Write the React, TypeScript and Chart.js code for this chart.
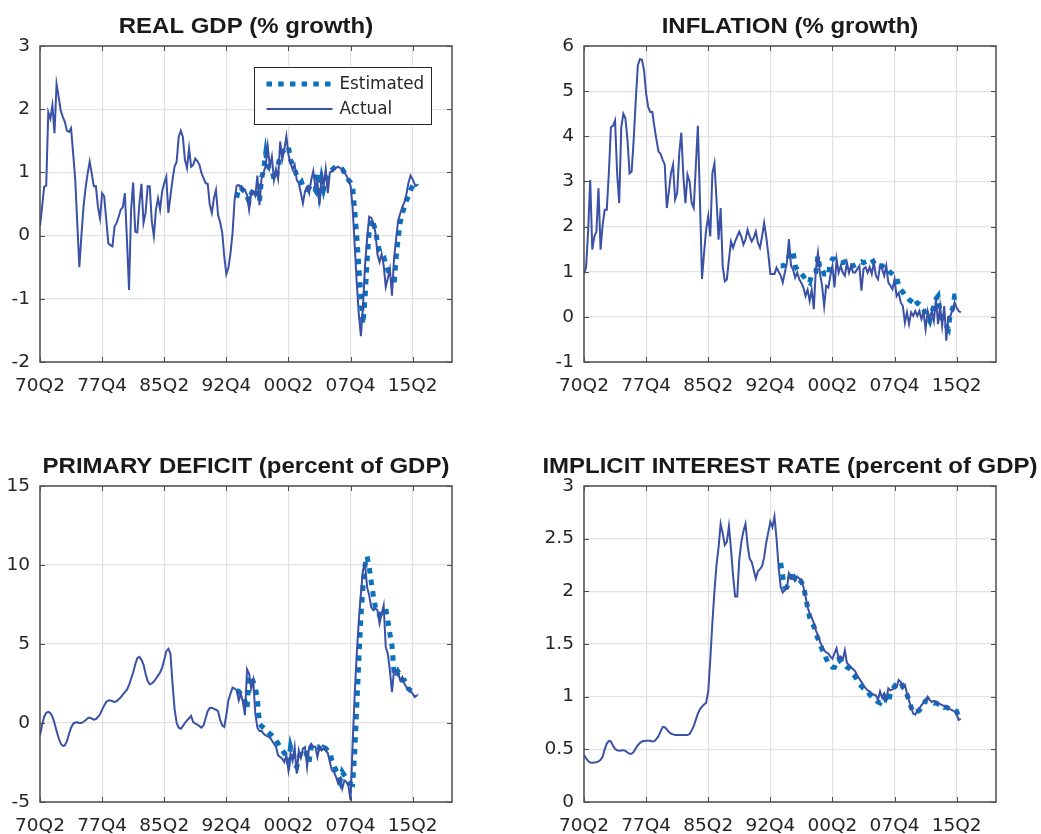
import React, { useEffect, useRef } from 'react';
import { Chart, registerables } from 'chart.js';

Chart.register(...registerables);

// Quarter index 1 = 1970Q2; the axis runs to index 200.
const quarterTicks = [1, 31, 61, 91, 121, 151, 181];
const quarterLabels = ['70Q2', '77Q4', '85Q2', '92Q4', '00Q2', '07Q4', '15Q2'];
const estimateStart = 96; // first estimated quarter (1994Q1)

const gdpActual = [
  0.15, 0.45, 0.77, 0.79, 1.95, 1.85, 2.06, 1.62, 2.4, 2.2,
  1.98, 1.88, 1.8, 1.66, 1.64, 1.7, 1.3, 0.9, 0.2, -0.5,
  0.0, 0.45, 0.75, 0.98, 1.17, 0.98, 0.78, 0.78, 0.45, 0.27,
  0.67, 0.62, 0.25, -0.12, -0.15, -0.17, 0.14, 0.2, 0.3, 0.41,
  0.45, 0.67, -0.07, -0.86, 0.41, 0.84, 0.06, 0.05, 0.5, 0.82,
  0.2, 0.36, 0.78, 0.78, 0.22, -0.01, 0.41, 0.59, 0.41, 0.7,
  0.83, 0.93, 0.36, 0.62, 0.88, 1.09, 1.17, 1.56, 1.66, 1.56,
  1.2, 1.07, 1.38, 1.09, 1.12, 1.22, 1.18, 1.12, 0.99, 0.91,
  0.83, 0.82, 0.49, 0.36, 0.59, 0.72, 0.33, 0.21, 0.05, -0.33,
  -0.61, -0.51, -0.28, 0.04, 0.57, 0.79, 0.8, 0.75, 0.73, 0.72,
  0.64, 0.41, 0.67, 0.7, 0.63, 0.95, 0.48, 0.9, 1.0, 1.1,
  1.41, 1.09, 1.25, 0.88, 1.05, 0.9, 1.49, 1.2, 1.36, 1.57,
  1.28, 1.15, 1.05, 1.12, 0.88, 0.83, 0.67, 0.51, 0.7, 0.77,
  0.67, 0.88, 1.02, 0.77, 0.85, 0.49, 0.95, 0.78, 1.05, 0.67,
  1.0, 1.02, 1.05, 1.07, 1.09, 1.07, 1.04, 1.0, 0.95, 0.88,
  0.79, 0.45, -0.15, -0.75, -1.25, -1.59, -1.12, -0.47, -0.05, 0.3,
  0.28, 0.2, 0.05, -0.3, -0.42, -0.29, -0.47, -0.81, -0.68, -0.53,
  -0.95, -0.37, -0.05, 0.24, 0.35, 0.45, 0.53, 0.66, 0.84, 0.95,
  0.89, 0.81, 0.78,
];

const gdpEstimated = [
  0.6, 0.75, 0.76, 0.72, 0.7, 0.62, 0.54, 0.66, 0.72, 0.75,
  0.72, 0.54, 0.9, 1.05, 1.3, 1.1, 1.06, 1.05, 0.9, 0.88,
  1.1, 1.3, 1.33, 1.35, 1.38, 1.41, 1.2, 1.12, 1.05, 0.95,
  0.9, 0.88, 0.78, 0.75, 0.73, 0.76, 0.8, 0.77, 0.72, 1.0,
  0.7, 0.9, 0.74, 0.88, 0.95, 1.02, 1.04, 1.07, 1.08, 1.08,
  1.06, 1.05, 1.0, 0.95, 0.88, 0.84, 0.78, 0.4, 0.0, -0.5,
  -0.95, -1.4, -1.0, -0.4, 0.05, 0.26, 0.2, 0.08, -0.1, -0.25,
  -0.29, -0.33, -0.45, -0.55, -0.6, -0.62, -0.79, -0.35, -0.05, 0.21,
  0.35, 0.45, 0.55, 0.63, 0.72, 0.79, 0.84, 0.78,
];

const inflationActual = [
  0.95, 1.1, 1.9, 3.03, 1.49, 1.78, 1.89, 2.85, 1.49, 2.04,
  2.37, 2.37, 3.18, 4.2, 4.23, 4.35, 3.18, 2.52, 4.2, 4.5,
  4.4, 3.92, 3.18, 3.22, 3.92, 4.8, 5.57, 5.71, 5.7, 5.46,
  4.95, 4.65, 4.54, 4.54, 4.21, 3.92, 3.66, 3.61, 3.48, 3.37,
  2.41, 2.78, 3.18, 3.37, 2.6, 2.74, 3.62, 4.08, 3.11, 2.52,
  3.15, 3.0, 2.52, 2.41, 3.33, 4.23, 2.6, 0.84, 1.42, 1.93,
  2.23, 1.78, 3.18, 3.4, 2.6, 1.71, 2.41, 1.12, 0.79, 0.83,
  1.27, 1.67, 1.53, 1.67, 1.78, 1.89, 1.78, 1.6, 1.71, 1.93,
  1.78, 1.67, 1.75, 1.89, 1.64, 1.53, 1.78, 2.08, 1.78, 1.4,
  0.95, 0.95, 0.95, 1.09, 1.0, 0.92, 0.76, 0.98, 1.2, 1.72,
  1.13, 1.05, 0.87, 0.98, 0.83, 0.75, 0.65, 0.46, 0.6, 0.35,
  0.6, 0.17, 1.06, 1.42, 0.95, 0.69, 0.24, 0.69, 0.65, 0.91,
  1.13, 0.65, 1.28, 0.98, 1.13, 0.98, 0.91, 1.2, 0.98, 1.13,
  0.98, 0.98, 1.06, 1.13, 0.58, 1.06, 1.1, 0.98, 1.1, 0.95,
  1.2, 0.91, 0.83, 1.13, 1.06, 0.91, 1.13, 0.76, 0.69, 0.61,
  0.83, 0.46, 0.53, 0.32, 0.24, -0.13, 0.1, -0.16, 0.1, 0.02,
  0.13, 0.02, 0.13, -0.05, 0.1, -0.27, 0.13, -0.05, 0.13, -0.09,
  0.39, -0.16, 0.24, -0.2, 0.24, -0.53, 0.0, 0.02, 0.17, 0.32,
  0.2, 0.13, 0.1,
];

const inflationEstimated = [
  1.13, 1.13, 1.15, 1.2, 1.35, 1.45, 1.45, 1.13, 1.05, 0.98,
  0.95, 0.9, 0.83, 0.8, 0.76, 0.95, 0.98, 1.0, 1.35, 1.05,
  1.05, 0.95, 0.95, 0.91, 1.2, 1.28, 1.28, 1.24, 1.22, 1.2,
  1.2, 1.22, 1.2, 1.13, 1.13, 1.13, 1.15, 1.17, 1.2, 1.22,
  1.2, 1.22, 1.24, 1.26, 1.28, 1.2, 1.13, 1.15, 1.13, 1.13,
  1.09, 1.09, 1.05, 0.98, 0.95, 0.91, 0.87, 0.7, 0.6, 0.55,
  0.47, 0.43, 0.38, 0.35, 0.32, 0.39, 0.3, 0.28, 0.24, 0.17,
  0.06, 0.0, -0.09, 0.1, 0.24, 0.4, 0.46, 0.1, -0.1, -0.16,
  -0.2, -0.27, 0.1, 0.17, 0.46, 0.46, 0.43, 0.41,
];

const deficitActual = [
  -0.78, -0.15, 0.4, 0.65, 0.7, 0.63, 0.4, 0.0, -0.5, -0.95,
  -1.3, -1.45, -1.42, -1.15, -0.7, -0.3, -0.05, 0.03, 0.05, 0.0,
  0.0, 0.08, 0.17, 0.3, 0.34, 0.28, 0.21, 0.25, 0.38, 0.55,
  0.85, 1.1, 1.33, 1.43, 1.43, 1.38, 1.33, 1.38, 1.5, 1.62,
  1.8, 1.95, 2.11, 2.4, 2.8, 3.2, 3.7, 4.1, 4.18, 4.0,
  3.7, 3.12, 2.65, 2.45, 2.5, 2.62, 2.8, 3.0, 3.2, 3.5,
  4.0, 4.55, 4.7, 4.4, 2.5, 0.9, 0.0, -0.3, -0.36, -0.2,
  0.0, 0.17, 0.3, 0.45, 0.06, -0.04, -0.1, -0.2, -0.3, -0.15,
  0.3, 0.75, 0.95, 0.97, 0.9, 0.84, 0.75, 0.2, -0.15, -0.25,
  0.5, 1.43, 1.86, 2.24, 2.17, 2.07, 1.43, 1.86, 1.33, 0.49,
  3.4, 3.12, 2.17, 2.7, 0.59, -0.3, -0.51, -0.5, -0.68, -0.78,
  -0.85, -0.93, -1.1, -1.31, -1.52, -2.05, -2.15, -2.26, -2.47, -2.05,
  -3.0, -1.94, -2.4, -1.52, -3.2, -1.73, -2.2, -1.62, -1.52, -2.78,
  -1.52, -1.31, -1.5, -1.5, -2.15, -1.5, -1.73, -1.6, -1.73, -1.9,
  -2.47, -3.0, -3.1, -3.42, -3.84, -3.52, -4.16, -3.63, -3.73, -4.0,
  -4.89, -1.31, 1.8, 4.39, 6.5, 8.19, 9.68, 10.0, 8.6, 8.08,
  7.34, 7.13, 7.24, 7.13, 6.29, 6.9, 7.45, 4.81, 4.39, 3.33,
  1.96, 3.33, 3.23, 3.12, 2.7, 2.91, 2.49, 2.28, 2.17, 2.0,
  1.86, 1.65, 1.75,
];

const deficitEstimated = [
  2.07, 2.0, 1.8, 1.65, 1.4, 0.91, 2.8, 3.0, 2.6, 2.28,
  1.54, -0.04, -0.2, -0.3, -0.42, -0.55, -0.68, -0.78, -0.89, -1.1,
  -1.31, -1.52, -1.7, -1.9, -2.15, -2.47, -1.52, -2.0, -2.57, -2.78,
  -2.2, -1.94, -1.8, -1.69, -2.1, -2.47, -1.52, -1.35, -1.5, -1.5,
  -1.6, -1.83, -1.55, -1.6, -1.75, -1.83, -2.36, -2.68, -3.0, -3.2,
  -3.63, -3.1, -3.31, -3.52, -3.73, -3.84, -3.88, -1.94, 1.0, 3.97,
  6.7, 8.6, 10.0, 10.55, 9.87, 8.92, 8.08, 7.34, 7.13, 6.81,
  7.0, 7.1, 7.24, 6.5, 5.65, 4.92, 3.23, 2.91, 3.23, 3.0,
  2.7, 2.7, 2.49, 2.17, 2.05, 1.96, 1.86, 1.69,
];

const rateActual = [
  0.446, 0.415, 0.39, 0.375, 0.373, 0.376, 0.378, 0.385, 0.4, 0.43,
  0.5, 0.555, 0.58, 0.575, 0.535, 0.505, 0.49, 0.487, 0.49, 0.492,
  0.485, 0.47, 0.458, 0.458, 0.475, 0.51, 0.54, 0.56, 0.575, 0.58,
  0.582, 0.582, 0.582, 0.575, 0.578, 0.6, 0.625, 0.67, 0.712, 0.71,
  0.69, 0.665, 0.65, 0.642, 0.636, 0.636, 0.636, 0.636, 0.636, 0.636,
  0.636, 0.645, 0.68, 0.72, 0.78, 0.84, 0.88, 0.905, 0.925, 0.943,
  1.05, 1.35, 1.7, 2.0, 2.25, 2.42, 2.64, 2.55, 2.44, 2.47,
  2.62, 2.4, 2.15, 1.95, 1.95, 2.3, 2.47, 2.57, 2.64, 2.44,
  2.31, 2.28, 2.2, 2.12, 2.19, 2.21, 2.24, 2.32, 2.46, 2.56,
  2.66, 2.61, 2.71, 2.5, 2.23, 2.04, 1.99, 2.01, 2.03, 2.17,
  2.12, 2.12, 2.11, 2.14, 2.12, 2.11, 2.04, 1.95, 1.85, 1.79,
  1.75, 1.7, 1.63, 1.58, 1.52, 1.48, 1.44, 1.42, 1.41, 1.38,
  1.36, 1.41, 1.46, 1.36, 1.38, 1.35, 1.44, 1.32, 1.3, 1.28,
  1.26, 1.24, 1.2, 1.17, 1.14, 1.11, 1.08, 1.06, 1.05, 1.03,
  1.02, 1.01, 0.97, 1.05, 0.99, 1.03, 0.97, 1.08, 1.06, 1.07,
  1.08, 1.09, 1.16, 1.14, 1.08, 1.11, 1.03, 0.96, 0.9, 0.84,
  0.83, 0.87, 0.89, 0.92, 0.94, 0.97, 1.0, 0.97, 0.95, 0.96,
  0.95, 0.94, 0.93, 0.92, 0.91, 0.9, 0.89, 0.88, 0.87, 0.86,
  0.83, 0.78, 0.79,
];

const rateEstimated = [
  2.27, 2.14, 2.04, 2.04, 2.08, 2.19, 2.15, 2.12, 2.14, 2.11,
  2.09, 2.05, 1.95, 1.85, 1.75, 1.7, 1.67, 1.6, 1.55, 1.5,
  1.45, 1.42, 1.36, 1.32, 1.3, 1.28, 1.28, 1.33, 1.36, 1.33,
  1.31, 1.3, 1.28, 1.27, 1.25, 1.21, 1.19, 1.15, 1.12, 1.1,
  1.08, 1.07, 1.05, 1.02, 1.0, 0.98, 0.97, 0.95, 0.94, 0.97,
  1.0, 0.96, 0.94, 1.03, 1.06, 1.1, 1.12, 1.13, 1.14, 1.09,
  1.06, 1.02, 0.96, 0.9, 0.85, 0.85, 0.86, 0.87, 0.91, 0.93,
  0.96, 0.96, 0.95, 0.95, 0.94, 0.94, 0.93, 0.93, 0.92, 0.9,
  0.9, 0.89, 0.88, 0.87, 0.87, 0.86, 0.81, 0.8,
];

const FONT = "'DejaVu Sans', 'Liberation Sans', Arial, sans-serif";
const TITLE_FONT = "bold 22px 'Liberation Sans', Arial, Helvetica, sans-serif";
const ACTUAL_COLOR = '#3a51a6';
const ESTIMATED_COLOR = '#0a72bd';
const AXIS_COLOR = '#4d4d4d';
const TEXT_COLOR = '#262626';
const GRID_COLOR = '#e2e2e2';
const PLOT_TOP = 46; // top edge of every plot box inside its canvas
const PLOT_BOTTOM = 362; // bottom edge of every plot box inside its canvas

type PanelSpec = {
  title: string;
  actual: number[];
  estimated: number[];
  yMin: number;
  yMax: number;
  yStep: number;
  left: number;
  top: number;
  width: number;
  height: number;
  yAxisWidth: number;
  rightPad: number;
  legend?: boolean;
};

const panels: PanelSpec[] = [
  { title: 'REAL GDP (% growth)', actual: gdpActual, estimated: gdpEstimated,
    yMin: -2, yMax: 3, yStep: 1, left: 0, top: 0, width: 520, height: 440,
    yAxisWidth: 40, rightPad: 68, legend: true },
  { title: 'INFLATION (% growth)', actual: inflationActual, estimated: inflationEstimated,
    yMin: -1, yMax: 6, yStep: 1, left: 520, top: 0, width: 521, height: 440,
    yAxisWidth: 64, rightPad: 45 },
  { title: 'PRIMARY DEFICIT (percent of GDP)', actual: deficitActual, estimated: deficitEstimated,
    yMin: -5, yMax: 15, yStep: 5, left: 0, top: 440, width: 520, height: 394,
    yAxisWidth: 40, rightPad: 68 },
  { title: 'IMPLICIT INTEREST RATE (percent of GDP)', actual: rateActual, estimated: rateEstimated,
    yMin: 0, yMax: 3, yStep: 0.5, left: 520, top: 440, width: 521, height: 394,
    yAxisWidth: 64, rightPad: 45 },
];

// Panel title, box around the axes, inward tick marks on all four sides, and the boxed legend.
const axesFrame = {
  id: 'axesFrame',
  afterDraw(chart: any, _args: any, opts: any) {
    const { ctx, chartArea: a, scales } = chart;
    ctx.save();

    if (opts && opts.title) {
      ctx.save();
      ctx.translate((a.left + a.right) / 2, a.top - 13);
      ctx.scale(1.09, 1);
      ctx.font = TITLE_FONT;
      ctx.fillStyle = '#1a1a1a';
      ctx.textAlign = 'center';
      ctx.textBaseline = 'alphabetic';
      ctx.fillText(opts.title, 0, 0);
      ctx.restore();
    }

    const tl = 5;
    ctx.strokeStyle = AXIS_COLOR;
    ctx.lineWidth = 1;
    ctx.beginPath();
    scales.y.ticks.forEach((t: any) => {
      const py = Math.round(scales.y.getPixelForValue(t.value)) + 0.5;
      ctx.moveTo(a.left, py);
      ctx.lineTo(a.left + tl, py);
      ctx.moveTo(a.right, py);
      ctx.lineTo(a.right - tl, py);
    });
    scales.x.ticks.forEach((t: any) => {
      const px = Math.round(scales.x.getPixelForValue(t.value)) + 0.5;
      ctx.moveTo(px, a.bottom);
      ctx.lineTo(px, a.bottom - tl);
      ctx.moveTo(px, a.top);
      ctx.lineTo(px, a.top + tl);
    });
    ctx.stroke();
    ctx.lineWidth = 1.5;
    ctx.strokeRect(a.left, a.top, a.right - a.left, a.bottom - a.top);

    if (opts && opts.legend) {
      const w = 177;
      const h = 57;
      const x0 = Math.round(a.right - 21 - w) + 0.5;
      const y0 = Math.round(a.top + 21) + 0.5;
      ctx.fillStyle = '#ffffff';
      ctx.fillRect(x0, y0, w, h);
      ctx.strokeStyle = TEXT_COLOR;
      ctx.lineWidth = 1;
      ctx.strokeRect(x0, y0, w, h);
      const rows = chart.data.datasets;
      rows.forEach((ds: any, k: number) => {
        const cy = y0 + 16.5 + k * 25;
        ctx.save();
        ctx.strokeStyle = ds.borderColor;
        ctx.lineWidth = ds.borderWidth;
        ctx.setLineDash(ds.borderDash || []);
        ctx.lineCap = 'butt';
        ctx.beginPath();
        ctx.moveTo(x0 + 12, cy);
        ctx.lineTo(x0 + 78, cy);
        ctx.stroke();
        ctx.restore();
        ctx.fillStyle = TEXT_COLOR;
        ctx.font = `16.8px ${FONT}`;
        ctx.textAlign = 'left';
        ctx.textBaseline = 'middle';
        ctx.fillText(ds.label, x0 + 85, cy + 1);
      });
    }
    ctx.restore();
  },
};

function Panel({ spec }: { spec: PanelSpec }) {
  const ref = useRef<HTMLCanvasElement>(null);

  useEffect(() => {
    const canvas = ref.current;
    if (!canvas) return;
    const chart = new Chart(canvas, {
      type: 'line',
      data: {
        datasets: [
          {
            label: 'Estimated',
            data: spec.estimated.map((v, k) => ({ x: estimateStart + k, y: v })),
            borderColor: ESTIMATED_COLOR,
            borderWidth: 5,
            borderDash: [5.5, 6.2],
            borderCapStyle: 'butt',
            pointRadius: 0,
            tension: 0,
            order: 2,
          },
          {
            label: 'Actual',
            data: spec.actual.map((v, k) => ({ x: k + 1, y: v })),
            borderColor: ACTUAL_COLOR,
            borderWidth: 2,
            pointRadius: 0,
            tension: 0,
            order: 1,
          },
        ],
      },
      options: {
        animation: false,
        responsive: false,
        events: [],
        layout: { padding: { left: 0, top: PLOT_TOP, right: spec.rightPad, bottom: 0 } },
        plugins: {
          legend: { display: false },
          tooltip: { enabled: false },
          title: { display: false },
          axesFrame: { legend: !!spec.legend, title: spec.title },
        } as any,
        scales: {
          x: {
            type: 'linear',
            min: 1,
            max: 200,
            afterBuildTicks: (scale: any) => {
              scale.ticks = quarterTicks.map((v) => ({ value: v }));
            },
            afterFit: (scale: any) => {
              scale.height = spec.height - PLOT_BOTTOM;
            },
            ticks: {
              autoSkip: false,
              maxRotation: 0,
              padding: 13,
              color: TEXT_COLOR,
              font: { family: FONT, size: 18.5 },
              callback: (v: any) => {
                const k = quarterTicks.indexOf(Number(v));
                return k >= 0 ? quarterLabels[k] : '';
              },
            },
            grid: { color: GRID_COLOR, lineWidth: 1.2, drawTicks: false },
            border: { display: false },
          },
          y: {
            type: 'linear',
            min: spec.yMin,
            max: spec.yMax,
            afterFit: (scale: any) => {
              scale.width = spec.yAxisWidth;
            },
            ticks: {
              stepSize: spec.yStep,
              padding: 10,
              color: TEXT_COLOR,
              font: { family: FONT, size: 18.5 },
              callback: (v: any) => String(Number(v)),
            },
            grid: { color: GRID_COLOR, lineWidth: 1.2, drawTicks: false },
            border: { display: false },
          },
        },
      } as any,
      plugins: [axesFrame],
    });
    return () => chart.destroy();
  }, [spec]);

  return (
    <canvas
      ref={ref}
      width={spec.width}
      height={spec.height}
      style={{ position: 'absolute', left: spec.left, top: spec.top, width: spec.width, height: spec.height }}
    />
  );
}

export default function App() {
  return (
    <div style={{ position: 'absolute', left: 0, top: 0, width: 1041, height: 834, background: '#ffffff', overflow: 'hidden' }}>
      {panels.map((p) => (
        <Panel key={p.title} spec={p} />
      ))}
    </div>
  );
}
